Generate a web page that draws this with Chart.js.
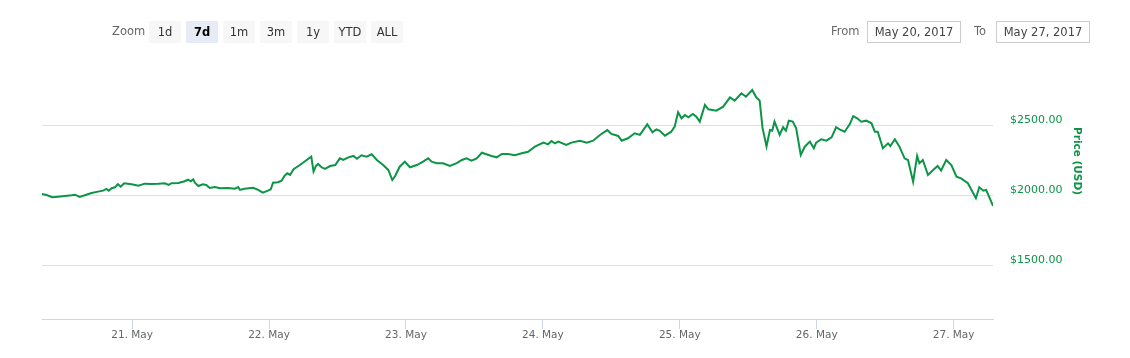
<!DOCTYPE html>
<html>
<head>
<meta charset="utf-8">
<script src="https://cdn.jsdelivr.net/npm/chart.js@4.4.1/dist/chart.umd.min.js"></script>
<style>
  body { margin: 0; background: #fff; font-family: "DejaVu Sans", sans-serif; }
  #wrap { position: relative; width: 1130px; height: 358px; overflow: hidden; }
  #c { position: absolute; left: 0; top: 0; }
  .lbl { position: absolute; top: 23px; font-size: 11.5px; color: #666; line-height: 16px; }
  .btn { position: absolute; top: 21px; width: 32px; height: 22px; line-height: 22px; text-align: center;
         font-size: 11.5px; color: #333; background: #f7f7f7; }
  .btn.on { background: #e6ebf5; color: #000; font-weight: bold; }
  .box { position: absolute; top: 21px; width: 92px; height: 20px; line-height: 20px; text-align: center;
         font-size: 11.5px; color: #444; border: 1px solid #ccc; }
</style>
</head>
<body>
<div id="wrap">
  <canvas id="c" width="1130" height="358"></canvas>
  <div class="lbl" style="left:112px">Zoom</div>
  <div class="btn" style="left:149px">1d</div>
  <div class="btn on" style="left:186px">7d</div>
  <div class="btn" style="left:223px">1m</div>
  <div class="btn" style="left:260px">3m</div>
  <div class="btn" style="left:297px">1y</div>
  <div class="btn" style="left:334px">YTD</div>
  <div class="btn" style="left:371px">ALL</div>
  <div class="lbl" style="left:831px">From</div>
  <div class="box" style="left:867px">May 20, 2017</div>
  <div class="lbl" style="left:974px">To</div>
  <div class="box" style="left:996px">May 27, 2017</div>
</div>
<script>
// hours since 20 May 2017 00:00
const hours = [8.2, 9.0, 10.0, 11.0, 12.2, 13.4, 14.0, 14.8, 15.7, 16.9,
  18.0, 18.9, 19.5, 19.9, 20.4, 21.0, 21.5, 22.0, 22.6, 23.9,
  25.1, 26.2, 27.4, 28.6, 29.7, 30.4, 30.9, 32.1, 33.2, 33.8,
  34.3, 34.7, 35.0, 35.6, 36.4, 37.0, 37.6, 38.5, 39.4, 40.8,
  42.0, 42.6, 42.9, 43.7, 45.2, 46.1, 46.9, 47.8, 48.3, 48.7,
  49.6, 50.2, 50.7, 51.2, 51.7, 52.3, 53.4, 54.6, 55.4, 55.8,
  56.2, 56.6, 57.2, 57.8, 58.7, 59.6, 60.4, 61.0, 61.9, 62.8,
  63.4, 64.2, 65.1, 66.0, 66.9, 68.0, 68.9, 69.6, 70.1, 70.9,
  71.8, 72.7, 73.9, 75.0, 75.9, 76.5, 77.4, 78.5, 79.7, 80.9,
  81.8, 82.6, 83.5, 84.4, 85.3, 86.1, 87.0, 87.9, 88.8, 89.9,
  91.1, 92.3, 93.4, 94.6, 96.1, 96.9, 97.5, 98.1, 98.7, 100.1,
  101.0, 102.5, 103.7, 104.8, 106.0, 107.3, 108.0, 109.2, 109.8, 110.9,
  112.1, 113.0, 114.3, 115.2, 115.9, 116.5, 117.4, 118.5, 119.1, 119.7,
  120.3, 120.9, 121.5, 122.3, 122.9, 123.5, 124.4, 125.0, 126.4, 127.6,
  128.8, 129.6, 130.8, 131.6, 132.7, 133.4, 134.0, 134.5, 135.2, 135.8,
  136.2, 136.6, 137.5, 138.1, 138.6, 139.1, 139.8, 140.4, 141.2, 141.9,
  142.8, 143.5, 143.9, 144.8, 145.7, 146.6, 147.4, 148.0, 148.9, 149.8,
  150.4, 151.1, 151.8, 152.7, 153.6, 154.2, 154.7, 155.6, 156.5, 156.9,
  157.7, 158.5, 159.4, 160.0, 160.9, 161.6, 162.0, 162.6, 163.5, 164.4,
  165.2, 165.8, 166.7, 167.6, 168.5, 169.3, 170.5, 171.9, 172.5, 173.2,
  173.7, 174.9];

// price in USD
const prices = [2014, 2007, 1991, 1995, 2000, 2005, 2009, 1993, 2005, 2021,
  2031, 2038, 2050, 2038, 2055, 2062, 2084, 2066, 2091, 2084,
  2074, 2088, 2086, 2088, 2091, 2079, 2091, 2093, 2105, 2116,
  2105, 2119, 2095, 2071, 2084, 2079, 2057, 2064, 2055, 2057,
  2052, 2064, 2043, 2052, 2059, 2043, 2024, 2038, 2048, 2095,
  2098, 2109, 2143, 2162, 2150, 2191, 2221, 2257, 2281, 2174,
  2214, 2229, 2205, 2193, 2214, 2221, 2269, 2257, 2276, 2286,
  2266, 2291, 2281, 2298, 2257, 2221, 2186, 2114, 2143, 2209,
  2245, 2205, 2221, 2245, 2269, 2245, 2234, 2234, 2214, 2234,
  2257, 2269, 2252, 2269, 2309, 2298, 2286, 2276, 2300, 2300,
  2291, 2305, 2316, 2352, 2381, 2369, 2393, 2376, 2388, 2364,
  2381, 2395, 2381, 2395, 2436, 2471, 2443, 2429, 2395, 2412,
  2448, 2436, 2512, 2455, 2476, 2466, 2431, 2459, 2495, 2598,
  2555, 2579, 2562, 2586, 2566, 2531, 2650, 2619, 2609, 2638,
  2705, 2681, 2734, 2709, 2757, 2705, 2681, 2486, 2354, 2471,
  2466, 2531, 2436, 2491, 2466, 2538, 2531, 2484, 2293, 2352,
  2388, 2341, 2381, 2405, 2395, 2419, 2491, 2476, 2459, 2514,
  2571, 2555, 2531, 2538, 2519, 2459, 2459, 2341, 2376, 2357,
  2405, 2352, 2269, 2257, 2102, 2286, 2234, 2257, 2150, 2186,
  2214, 2181, 2257, 2221, 2138, 2126, 2091, 1984, 2062, 2038,
  2043, 1929];

const xTickHours = [24, 48, 72, 96, 120, 144, 168];
const xTickLabels = ['21. May', '22. May', '23. May', '24. May', '25. May', '26. May', '27. May'];
const yTicks = [1500, 2000, 2500];
const yMin = 1121;
const yMax = 3000;

const green = '#0c9447';

const points = hours.map((h, i) => ({ x: h, y: prices[i] }));

// rotated axis title on the right
const axisTitle = {
  id: 'axisTitle',
  afterDraw(chart) {
    const ctx = chart.ctx;
    ctx.save();
    ctx.translate(1077, 161);
    ctx.rotate(Math.PI / 2);
    ctx.font = 'bold 10.5px "DejaVu Sans"';
    ctx.fillStyle = green;
    ctx.textAlign = 'center';
    ctx.textBaseline = 'middle';
    ctx.fillText('Price (USD)', 0, 0);
    ctx.restore();
  }
};

new Chart(document.getElementById('c'), {
  type: 'line',
  data: {
    datasets: [{
      data: points,
      borderColor: green,
      borderWidth: 2,
      pointRadius: 0,
      tension: 0,
      fill: false
    }]
  },
  options: {
    responsive: false,
    animation: false,
    layout: { padding: { left: 42, top: 56, right: 0, bottom: 0 } },
    plugins: { legend: { display: false }, tooltip: { enabled: false } },
    scales: {
      x: {
        type: 'linear',
        min: hours[0],
        max: hours[hours.length - 1],
        afterBuildTicks: (s) => { s.ticks = xTickHours.map(v => ({ value: v })); },
        afterFit: (s) => { s.height = 39; },
        grid: { drawOnChartArea: false, drawTicks: true, tickLength: 10, color: '#ccd6eb' },
        border: { color: '#ccd6eb', width: 1 },
        ticks: {
          autoSkip: false,
          maxRotation: 0,
          padding: 0,
          color: '#666',
          font: { family: 'DejaVu Sans', size: 10.5 },
          callback: (v, i) => xTickLabels[i]
        }
      },
      y: {
        position: 'right',
        min: yMin,
        max: yMax,
        afterBuildTicks: (s) => { s.ticks = yTicks.map(v => ({ value: v })); },
        afterFit: (s) => { s.width = 137; },
        grid: { color: '#e0e0e0', drawTicks: false },
        border: { display: false },
        ticks: {
          padding: 17,
          labelOffset: -6,
          color: green,
          font: { family: 'DejaVu Sans', size: 11 },
          callback: (v) => '$' + v.toFixed(2)
        }
      }
    }
  },
  plugins: [axisTitle]
});
</script>
</body>
</html>
